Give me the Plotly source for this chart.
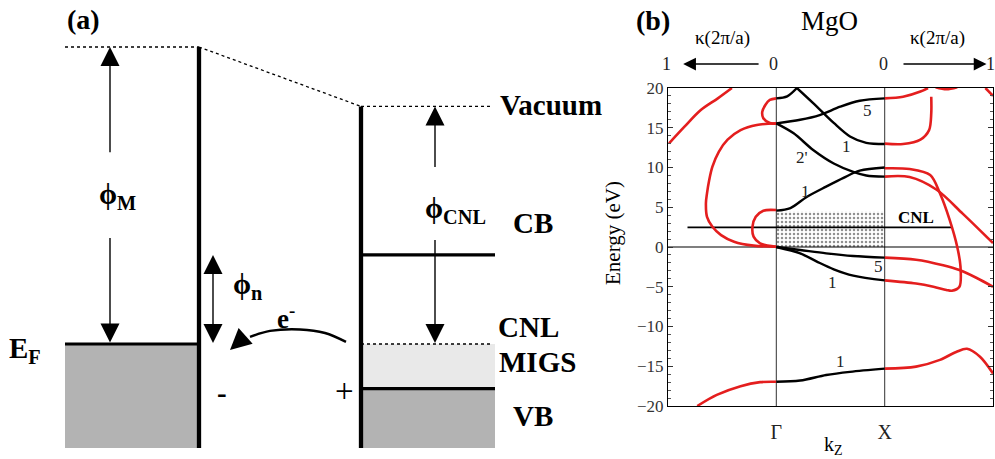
import plotly.graph_objects as go

# ======================= Panel (a): schematic band diagram =======================
# energy levels in schematic units (metal Fermi level = 0)
lvl_metal_vac = 10.0
lvl_EF = 0.0
lvl_semi_vac = 8.0
lvl_CB = 3.0
lvl_CNL = 0.0
lvl_VB = -1.5
lvl_bottom = -3.5
phiM_gap = [6.46, 3.57]       # where the phi_M arrow shaft breaks for its label
phiCNL_gap = [5.96, 3.5]      # where the phi_CNL arrow shaft breaks for its label
e_curve_x = [250, 270, 300, 325, 346]
e_curve_y = [0.24, 0.44, 0.49, 0.37, 0.07]
e_tip_x, e_tip_y = 230, -0.2

# ======================= Panel (b): MgO complex band structure ====================
# x: -1..0 = kappa (left, imaginary), 0..1 = Gamma->X, 1..2 = 1+kappa (right)
yticks = [-20, -15, -10, -5, 0, 5, 10, 15, 20]
xtick_vals = [0, 1]
xtick_text = ["Γ", "X"]

# real bands (black)
ba_up_x = [0, 0.1, 0.19]
ba_up_E = [18.7, 18.95, 20.0]
ba_dn_x = [0.19, 0.34, 0.53, 0.68, 0.83, 1.0]
ba_dn_E = [20.0, 18.1, 15.6, 13.9, 13.1, 12.95]
bb_x = [0, 0.22, 0.4, 0.59, 0.77, 1.0]
bb_E = [15.55, 16.0, 16.6, 17.65, 18.4, 18.7]
bc_x = [0, 0.16, 0.34, 0.53, 0.71, 0.83, 1.0]
bc_E = [15.55, 14.3, 12.2, 10.5, 9.45, 9.0, 8.85]
bd_x = [0, 0.13, 0.28, 0.46, 0.62, 0.77, 1.0]
bd_E = [4.57, 4.9, 6.3, 7.6, 8.7, 9.6, 10.0]
be_x = [0, 0.22, 0.46, 0.71, 1.0]
be_E = [0.0, -0.38, -0.8, -1.13, -1.34]
bf_x = [0, 0.22, 0.37, 0.53, 0.71, 1.0]
bf_E = [0.0, -0.8, -1.8, -2.8, -3.6, -4.2]
bg_x = [0, 0.22, 0.46, 0.68, 1.0]
bg_E = [-16.95, -16.8, -16.1, -15.7, -15.3]

# complex bands (red), left side
l1_x = [-0.99, -0.85, -0.70, -0.54, -0.41]
l1_E = [13.04, 15.1, 17.2, 18.7, 20.0]
l2_x = [0, -0.18, -0.33, -0.45, -0.53, -0.59, -0.62, -0.64, -0.65, -0.64, -0.59, -0.51, -0.39, -0.21, 0]
l2_E = [15.56, 15.35, 14.7, 13.5, 12.0, 10.1, 8.4, 6.75, 5.5, 3.8, 2.55, 1.5, 0.67, 0.17, 0.04]
l3_x = [0, -0.12, -0.19, -0.22, -0.21, -0.15, 0]
l3_E = [4.65, 4.57, 3.8, 2.55, 1.3, 0.46, 0.04]
l4_x = [0, -0.06, -0.1, -0.13, -0.12, -0.06, 0]
l4_E = [18.7, 18.5, 17.9, 17.0, 16.2, 15.6, 15.5]
l5_x = [-0.73, -0.55, -0.33, -0.15, 0]
l5_E = [-20.0, -18.6, -17.5, -17.0, -16.95]

# complex bands (red), right side
r1_x = [1, 1.17, 1.33, 1.4]
r1_E = [18.7, 18.9, 19.55, 20.0]
r2_x = [1, 1.17, 1.33, 1.41, 1.43, 1.43]
r2_E = [13.0, 12.95, 13.5, 14.7, 16.8, 18.9]
r3_x = [1, 1.23, 1.42, 1.51, 1.6, 1.67, 1.7, 1.69, 1.62, 1.57, 1.45, 1.29, 1]
r3_E = [9.9, 9.8, 9.05, 6.75, 3.4, 0.0, -2.5, -5.0, -5.5, -5.4, -5.0, -4.6, -4.2]
r4_x = [1, 1.23, 1.48, 1.72, 1.88, 2.0]
r4_E = [8.85, 8.8, 7.2, 4.2, 2.1, 0.5]
r5_x = [1, 1.29, 1.54, 1.69, 1.85, 2.0]
r5_E = [-1.34, -1.6, -2.3, -2.9, -3.9, -5.0]
r6_x = [1, 1.29, 1.51, 1.66, 1.76, 1.88, 2.0]
r6_E = [-15.3, -15.05, -14.2, -13.2, -12.8, -13.8, -15.9]
r7_x = [1.93, 2.0]
r7_E = [20.0, 19.0]
r8_x = [1.47, 1.57, 1.67]
r8_E = [20.1, 19.85, 20.1]

cnl_E = 2.47
cnl_x = [-0.82, 1.63]
migs_box_E = [0.0, 4.45]

band_labels = ["5", "1", "2'", "1", "5", "1", "1"]
band_label_x = [0.84, 0.65, 0.24, 0.27, 0.94, 0.52, 0.59]
band_label_E = [17.2, 12.6, 11.2, 7.0, -2.5, -4.5, -14.4]

# ============================== figure ==============================
SERIF = "Liberation Serif"
RED = "#e41e1e"
fig = go.Figure()

def a_line(x, y, width=1.3, dash=None, color="black"):
    fig.add_trace(go.Scatter(x=x, y=y, mode="lines", xaxis="x2", yaxis="y2",
                             line=dict(color=color, width=width, dash=dash),
                             hoverinfo="skip"))

def a_fill(x0, x1, y0, y1, color):
    fig.add_trace(go.Scatter(x=[x0, x1, x1, x0, x0], y=[y0, y0, y1, y1, y0],
                             mode="lines", fill="toself", fillcolor=color,
                             line=dict(width=0, color=color), xaxis="x2", yaxis="y2",
                             hoverinfo="skip"))

def a_arrow(x, y, sym, size=19, angle=0):
    fig.add_trace(go.Scatter(x=[x], y=[y], mode="markers", xaxis="x2", yaxis="y2",
                             marker=dict(symbol=sym, size=size, color="black", angle=angle,
                                         line=dict(width=0)),
                             hoverinfo="skip"))

MX0, MX1 = 65, 199      # metal extent
SX0, SX1 = 361, 495     # semiconductor extent
# fills
a_fill(MX0, MX1, lvl_bottom, lvl_EF, "#b3b3b3")
a_fill(SX0, SX1, lvl_VB, lvl_CNL, "#e9e9e9")
a_fill(SX0, SX1, lvl_bottom, lvl_VB, "#b3b3b3")
# dotted vacuum levels
a_line([MX0, MX1], [lvl_metal_vac, lvl_metal_vac], 1.3, "dot")
a_line([MX1, SX0], [lvl_metal_vac, lvl_semi_vac], 1.3, "dot")
a_line([SX0, SX1 - 2], [lvl_semi_vac, lvl_semi_vac], 1.3, "dot")
a_line([SX0, SX1 - 2], [lvl_CNL, lvl_CNL], 1.3, "dot")
# thick lines
a_line([MX1, MX1], [lvl_metal_vac, lvl_bottom], 4.3)
a_line([MX0, MX1], [lvl_EF, lvl_EF], 3.2)
a_line([SX0, SX0], [lvl_semi_vac, lvl_bottom], 4.3)
a_line([SX0, SX1], [lvl_CB, lvl_CB], 3.2)
a_line([SX0, SX1], [lvl_VB, lvl_VB], 3.2)
# phi_M arrow
a_line([110, 110], [lvl_metal_vac - 0.5, phiM_gap[0]], 1.4)
a_line([110, 110], [phiM_gap[1], lvl_EF + 0.5], 1.4)
a_arrow(110, lvl_metal_vac, "arrow-up")
a_arrow(110, lvl_EF + 0.05, "arrow-down")
# phi_n arrow
a_line([213, 213], [lvl_CB - 0.5, lvl_EF + 0.5], 1.4)
a_arrow(213, lvl_CB, "arrow-up")
a_arrow(213, lvl_EF + 0.03, "arrow-down")
# phi_CNL arrow
a_line([435, 435], [lvl_semi_vac - 0.5, phiCNL_gap[0]], 1.4)
a_line([435, 435], [phiCNL_gap[1], lvl_CNL + 0.5], 1.4)
a_arrow(435, lvl_semi_vac, "arrow-up")
a_arrow(435, lvl_CNL + 0.03, "arrow-down")
# electron transfer arrow
fig.add_trace(go.Scatter(x=e_curve_x, y=e_curve_y, mode="lines", xaxis="x2", yaxis="y2",
                         line=dict(color="black", width=2.4, shape="spline"), hoverinfo="skip"))
a_arrow(e_tip_x, e_tip_y, "arrow-up", size=21, angle=228)

# ---------------- panel (b) traces ----------------
fig.add_trace(go.Scatter(x=[0, 1, 1, 0, 0],
                         y=[migs_box_E[0], migs_box_E[0], migs_box_E[1], migs_box_E[1], migs_box_E[0]],
                         mode="lines", fill="toself", fillcolor="white",
                         fillpattern=dict(shape=".", fgcolor="#222222", bgcolor="white",
                                          size=4, solidity=0.3),
                         line=dict(width=0), hoverinfo="skip"))
for xv in xtick_vals:
    fig.add_trace(go.Scatter(x=[xv, xv], y=[-20, 20], mode="lines",
                             line=dict(color="#444444", width=1.1), hoverinfo="skip"))
fig.add_trace(go.Scatter(x=[-1, 2], y=[0, 0], mode="lines",
                         line=dict(color="black", width=1.2), hoverinfo="skip"))
fig.add_trace(go.Scatter(x=cnl_x, y=[cnl_E, cnl_E], mode="lines",
                         line=dict(color="black", width=1.6), hoverinfo="skip"))

black_curves = [(ba_up_x, ba_up_E), (ba_dn_x, ba_dn_E), (bb_x, bb_E), (bc_x, bc_E),
                (bd_x, bd_E), (be_x, be_E), (bf_x, bf_E), (bg_x, bg_E)]
red_curves = [(l1_x, l1_E), (l2_x, l2_E), (l3_x, l3_E), (l4_x, l4_E), (l5_x, l5_E),
              (r1_x, r1_E), (r2_x, r2_E), (r3_x, r3_E), (r4_x, r4_E), (r5_x, r5_E),
              (r6_x, r6_E), (r7_x, r7_E), (r8_x, r8_E)]
for cx, cy in red_curves:
    fig.add_trace(go.Scatter(x=cx, y=cy, mode="lines",
                             line=dict(color=RED, width=2.6, shape="spline", smoothing=0.9),
                             hoverinfo="skip"))
for cx, cy in black_curves:
    fig.add_trace(go.Scatter(x=cx, y=cy, mode="lines",
                             line=dict(color="black", width=2.4, shape="spline", smoothing=0.9),
                             hoverinfo="skip"))

# ---------------- annotations ----------------
ann = []
def a_text(x, y, text, size=29, bold=True):
    t = f"<b>{text}</b>" if bold else text
    ann.append(dict(x=x, y=y, xref="x2", yref="y2", text=t, showarrow=False,
                    xanchor="center", yanchor="middle",
                    font=dict(family=SERIF, size=size, color="black")))

a_text(83, 10.91, "(a)", 28)
a_text(117, 4.98, "ϕ<sub>M</sub>")
a_text(25, -0.19, "E<sub>F</sub>")
a_text(247, 1.94, "ϕ<sub>n</sub>")
a_text(286, 0.91, "e<sup>-</sup>", 27)
a_text(222, -1.65, "-")
a_text(344, -1.58, "+", 33, bold=False)
a_text(455, 4.51, "ϕ<sub>CNL</sub>")
a_text(533, 4.07, "CB")
a_text(551, 8.05, "Vacuum")
a_text(528, 0.57, "CNL")
a_text(537, -0.61, "MIGS")
a_text(533, -2.42, "VB")

def p_text(xpx, ypx, text, size, bold=False, angle=0, color="black"):
    t = f"<b>{text}</b>" if bold else text
    ann.append(dict(x=xpx / 995, y=1 - ypx / 459, xref="paper", yref="paper", text=t,
                    showarrow=False, xanchor="center", yanchor="middle", textangle=angle,
                    font=dict(family=SERIF, size=size, color=color)))

p_text(653, 21, "(b)", 28, bold=True)
p_text(829, 21, "MgO", 27)
p_text(722, 38, "κ(2π/a)", 19)
p_text(937, 38, "κ(2π/a)", 19)
p_text(613, 233, "Energy (eV)", 21, angle=-90)
p_text(833, 445, "k<sub>Z</sub>", 20)
# kappa scale ends above the plot
for xpx, tx in [(666, "1"), (773, "0"), (883, "0"), (990, "1")]:
    p_text(xpx, 64, tx, 18, color="#222")

top_y = 1 - 64 / 459
for tip, tail in [(-0.86, -0.15), (1.94, 1.16)]:
    ann.append(dict(x=tip, y=top_y, xref="x", yref="paper", ax=tail, ay=0,
                    axref="x", ayref="pixel", text="", showarrow=True,
                    arrowhead=2, arrowsize=1.7, arrowwidth=1.5, arrowcolor="black"))

for t, xv, ev in zip(band_labels, band_label_x, band_label_E):
    ann.append(dict(x=xv, y=ev, xref="x", yref="y", text=t, showarrow=False,
                    font=dict(family=SERIF, size=17, color="#222")))
ann.append(dict(x=1.285, y=cnl_E + 1.3, xref="x", yref="y", text="<b>CNL</b>",
                showarrow=False, font=dict(family=SERIF, size=17, color="black")))

fig.update_layout(
    width=995, height=459, autosize=False,
    margin=dict(l=0, r=0, t=0, b=0, pad=0, autoexpand=False),
    paper_bgcolor="white", plot_bgcolor="rgba(0,0,0,0)", showlegend=False,
    annotations=ann,
    xaxis=dict(domain=[668 / 995, 993 / 995], range=[-1, 2], showgrid=False, zeroline=False,
               showline=True, mirror=True, linecolor="black", linewidth=1,
               tickmode="array", tickvals=xtick_vals, ticktext=xtick_text, ticks="",
               ticklabelstandoff=8, automargin=False,
               tickfont=dict(family=SERIF, size=20, color="#222")),
    yaxis=dict(domain=[1 - 406 / 459, 1 - 88 / 459], range=[-20, 20], showgrid=False,
               zeroline=False, showline=True, mirror="ticks", linecolor="black", linewidth=1,
               tickmode="array", tickvals=yticks, ticks="inside", ticklen=5, automargin=False,
               tickcolor="#333", minor=dict(dtick=1, ticks="inside", ticklen=3, tickcolor="#555"),
               tickfont=dict(family=SERIF, size=17, color="#333")),
    xaxis2=dict(domain=[0, 600 / 995], range=[0, 600], visible=False, anchor="y2", automargin=False),
    yaxis2=dict(domain=[0, 1], range=[(344 - 459) / 29.7, 344 / 29.7], visible=False,
                anchor="x2", automargin=False),
)

fig.write_html("out.html", config={"displayModeBar": False},
               post_script="document.body.style.margin='0px';document.body.style.overflow='hidden';")
